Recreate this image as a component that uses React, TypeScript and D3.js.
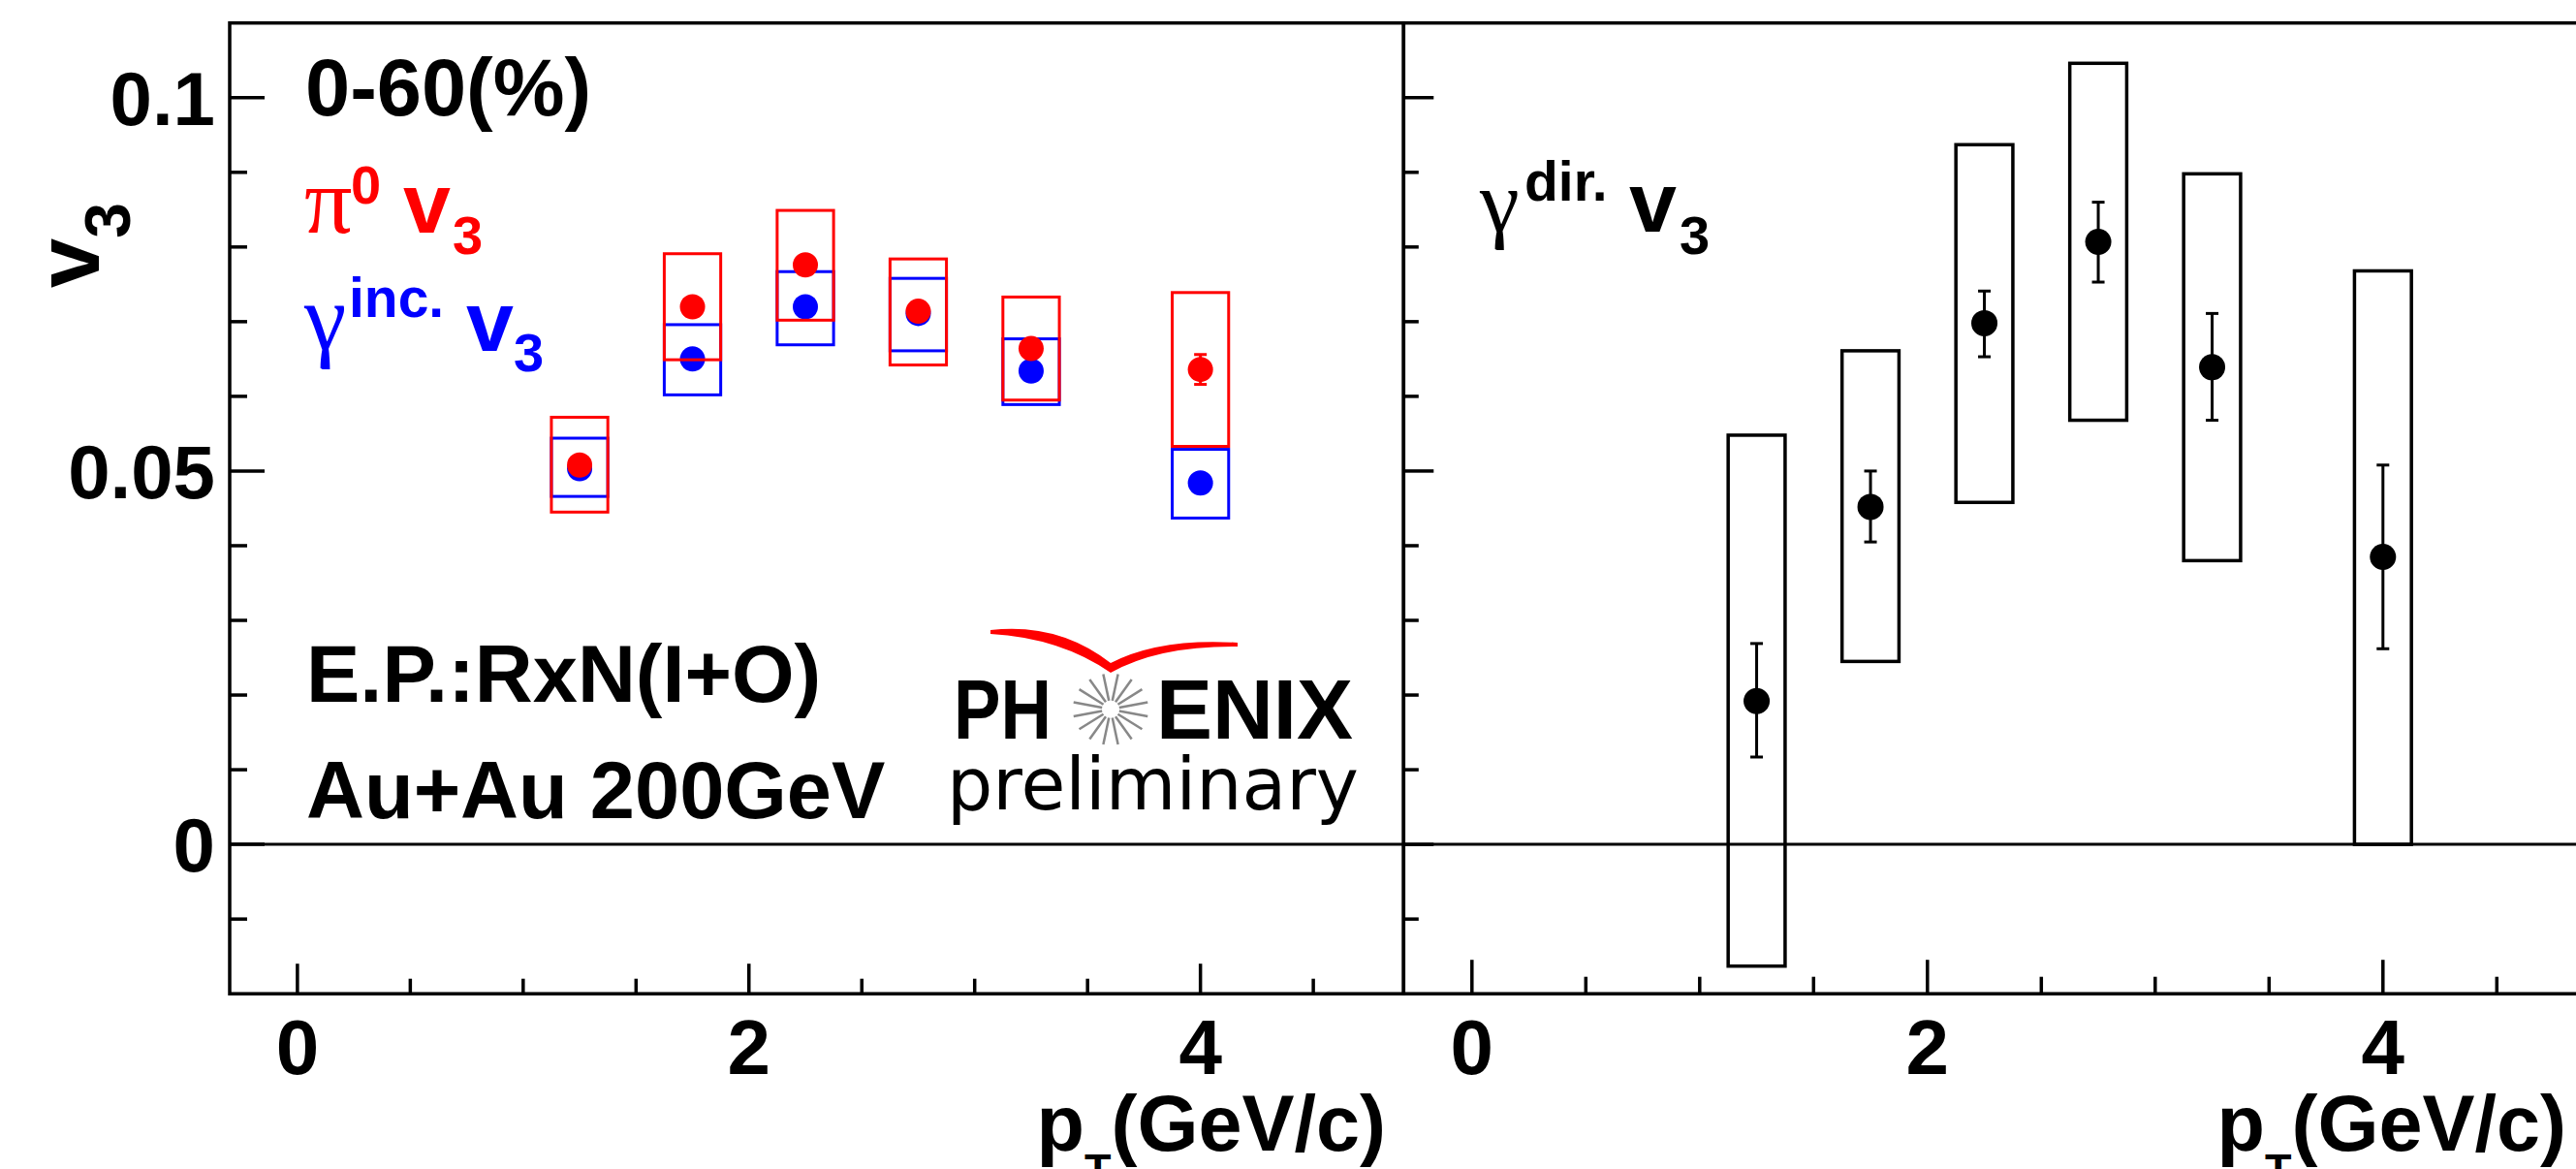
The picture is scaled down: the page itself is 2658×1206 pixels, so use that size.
import React from "react";
import * as d3 from "d3";

// pT bin centres (GeV/c)
const pT = [1.25, 1.75, 2.25, 2.75, 3.25, 4.0];

// pi0 v3 (red)
const pi0V3 = [0.0508, 0.072, 0.0776, 0.0714, 0.0664, 0.0636];
const pi0Stat = [0.0005, 0.0005, 0.0005, 0.0005, 0.0005, 0.002];
const pi0SysLo = [0.0445, 0.0649, 0.0702, 0.0642, 0.0595, 0.0533];
const pi0SysHi = [0.0572, 0.0791, 0.0849, 0.0784, 0.0733, 0.0739];

// inclusive photon v3 (blue)
const incV3 = [0.0503, 0.065, 0.072, 0.0711, 0.0634, 0.0484];
const incStat = [0.0005, 0.0005, 0.0005, 0.0005, 0.0005, 0.0005];
const incSysLo = [0.0466, 0.0602, 0.0669, 0.0661, 0.0589, 0.0437];
const incSysHi = [0.0544, 0.0696, 0.0767, 0.0758, 0.0677, 0.0529];

// direct photon v3 (black)
const dirV3 = [0.0192, 0.0452, 0.0698, 0.0807, 0.0639, 0.0385];
const dirStatLo = [0.0117, 0.0405, 0.0653, 0.0753, 0.0568, 0.0262];
const dirStatHi = [0.0269, 0.05, 0.0741, 0.086, 0.0711, 0.0508];
const dirSysLo = [-0.0163, 0.0245, 0.0458, 0.0568, 0.038, 0.0];
const dirSysHi = [0.0548, 0.0661, 0.0937, 0.1046, 0.0898, 0.0768];

const xMajor = [0, 2, 4];
const xLabels = ["0", "2", "4"];
const yMajor = [0, 0.05, 0.1];
const yLabels = ["0", "0.05", "0.1"];

const W = 2658;
const H = 1206;
const top = 23.7;
const bottom = 1025.2;
const leftX0 = 237;
const divX = 1448.3;
const rightX1 = 2670.3;
const boxHalf = 0.125;

const sans = "'Liberation Sans', Arial, Helvetica, sans-serif";
const serif = "'Liberation Serif', 'Times New Roman', serif";

const App = () => {
  const y = d3.scaleLinear().domain([-0.02, 0.11]).range([bottom, top]);
  const xL = d3.scaleLinear().domain([-0.3, 4.9]).range([leftX0, divX]);
  const xR = d3.scaleLinear().domain([-0.3, 4.9]).range([divX, rightX1]);

  const xMinor = d3.range(0, 4.75, 0.5).filter((v) => !xMajor.includes(v));
  const yMinor = d3
    .range(-1, 11)
    .map((i) => i / 100)
    .filter((v) => !yMajor.some((m) => Math.abs(m - v) < 1e-9));

  const sysBox = (x, p, lo, hi, color, sw, key) => (
    <rect
      key={key}
      x={x(p - boxHalf)}
      y={y(hi)}
      width={x(p + boxHalf) - x(p - boxHalf)}
      height={y(lo) - y(hi)}
      fill="none"
      stroke={color}
      strokeWidth={sw}
    />
  );

  const errBar = (x, p, lo, hi, color, key) => (
    <g key={key} stroke={color} strokeWidth={3}>
      <line x1={x(p)} x2={x(p)} y1={y(lo)} y2={y(hi)} />
      <line x1={x(p) - 6.5} x2={x(p) + 6.5} y1={y(lo)} y2={y(lo)} />
      <line x1={x(p) - 6.5} x2={x(p) + 6.5} y1={y(hi)} y2={y(hi)} />
    </g>
  );

  const axes = (x, x0, x1, yMajLen, yMinLen, xMajLen, xMinLen, labelsY) => (
    <g stroke="#000" strokeWidth={3.5}>
      {yMajor.map((v) => (
        <line key={"ym" + v} x1={x0} x2={x0 + yMajLen} y1={y(v)} y2={y(v)} />
      ))}
      {yMinor.map((v) => (
        <line key={"yn" + v} x1={x0} x2={x0 + yMinLen} y1={y(v)} y2={y(v)} />
      ))}
      {xMajor.map((v) => (
        <line key={"xm" + v} x1={x(v)} x2={x(v)} y1={bottom} y2={bottom - xMajLen} />
      ))}
      {xMinor.map((v) => (
        <line key={"xn" + v} x1={x(v)} x2={x(v)} y1={bottom} y2={bottom - xMinLen} />
      ))}
      {/* zero line */}
      <line x1={x0} x2={x1} y1={y(0)} y2={y(0)} strokeWidth={3} />
      {/* frame */}
      <rect x={x0} y={top} width={x1 - x0} height={bottom - top} fill="none" />
      <g stroke="none" fill="#000" fontFamily={sans} fontWeight="bold" fontSize={80} textAnchor="middle">
        {xMajor.map((v, i) => (
          <text key={"xl" + v} x={x(v)} y={1108}>
            {xLabels[i]}
          </text>
        ))}
      </g>
      {labelsY && (
        <g stroke="none" fill="#000" fontFamily={sans} fontWeight="bold" fontSize={78} textAnchor="end">
          {yMajor.map((v, i) => (
            <text key={"yl" + v} x={x0 - 15} y={y(v) + 28}>
              {yLabels[i]}
            </text>
          ))}
        </g>
      )}
    </g>
  );

  const rays = d3.range(16).map((i) => ((i + 0.5) * Math.PI) / 8);
  const cx = 1146;
  const cy = 731.7;

  return (
    <svg
      width={W}
      height={H}
      style={{ position: "absolute", left: 0, top: 0, background: "#fff" }}
    >
      <rect x={0} y={0} width={W} height={H} fill="#fff" />

      {/* left panel */}
      {axes(xL, leftX0, divX, 36, 18, 31, 15.5, true)}
      {pT.map((p, i) => sysBox(xL, p, incSysLo[i], incSysHi[i], "#0000ff", 3, "bb" + i))}
      {pT.map((p, i) => errBar(xL, p, incV3[i] - incStat[i], incV3[i] + incStat[i], "#0000ff", "be" + i))}
      {pT.map((p, i) => (
        <circle key={"bc" + i} cx={xL(p)} cy={y(incV3[i])} r={13} fill="#0000ff" />
      ))}
      {pT.map((p, i) => sysBox(xL, p, pi0SysLo[i], pi0SysHi[i], "#ff0000", 3, "rb" + i))}
      {pT.map((p, i) => errBar(xL, p, pi0V3[i] - pi0Stat[i], pi0V3[i] + pi0Stat[i], "#ff0000", "re" + i))}
      {pT.map((p, i) => (
        <circle key={"rc" + i} cx={xL(p)} cy={y(pi0V3[i])} r={13} fill="#ff0000" />
      ))}

      {/* right panel */}
      {axes(xR, divX, rightX1, 31, 15.5, 35, 17.5, false)}
      {pT.map((p, i) => sysBox(xR, p, dirSysLo[i], dirSysHi[i], "#000", 3.5, "kb" + i))}
      {pT.map((p, i) => errBar(xR, p, dirStatLo[i], dirStatHi[i], "#000", "ke" + i))}
      {pT.map((p, i) => (
        <circle key={"kc" + i} cx={xR(p)} cy={y(dirV3[i])} r={13.5} fill="#000" />
      ))}

      {/* texts */}
      <g fontFamily={sans} fontWeight="bold">
        <text x={315} y={118.6} fontSize={83}>0-60(%)</text>
        <text x={316} y={724} fontSize={83}>E.P.:RxN(I+O)</text>
        <text x={316} y={843.5} fontSize={83}>Au+Au 200GeV</text>

        <g fill="#ff0000">
          <text x={314} y={240} fontFamily={serif} fontWeight="normal" fontSize={98}>π</text>
          <text x={362} y={210} fontSize={56}>0</text>
          <text x={416} y={240} fontSize={88}>v</text>
          <text x={467} y={262} fontSize={56}>3</text>
        </g>
        <g fill="#0000ff">
          <text x={314} y={360} fontFamily={serif} fontWeight="normal" fontSize={98}>γ</text>
          <text x={360} y={326.7} fontSize={57}>inc.</text>
          <text x={481} y={361.7} fontSize={88}>v</text>
          <text x={530} y={383} fontSize={56}>3</text>
        </g>
        <g fill="#000">
          <text x={1527} y={239} fontFamily={serif} fontWeight="normal" fontSize={92}>γ</text>
          <text x={1573} y={207} fontSize={57}>dir.</text>
          <text x={1681} y={239} fontSize={88}>v</text>
          <text x={1733} y={262} fontSize={56}>3</text>
        </g>

        {/* y axis title */}
        <text transform="translate(102,297) rotate(-90)" fontSize={92}>
          v
          <tspan fontSize={66} dy={32}>3</tspan>
        </text>

        {/* x axis titles */}
        <text x={1430} y={1187} fontSize={81} textAnchor="end">
          p<tspan fontSize={45} dy={35}>T</tspan>
          <tspan dy={-35}>(GeV/c)</tspan>
        </text>
        <text x={2648} y={1187} fontSize={81} textAnchor="end">
          p<tspan fontSize={45} dy={35}>T</tspan>
          <tspan dy={-35}>(GeV/c)</tspan>
        </text>
      </g>

      {/* PHENIX preliminary logo */}
      <g>
        <path
          d="M1022,650 Q1092,642 1146,684 Q1196,658 1277,663 L1277,667 Q1196,666 1146,694 Q1094,658 1022,654 Z"
          fill="#ff0000"
        />
        <g fontFamily={sans} fontWeight="bold" fontSize={88}>
          <text x={984} y={762} textLength={101} lengthAdjust="spacingAndGlyphs">PH</text>
          <text x={1193} y={762} textLength={203} lengthAdjust="spacingAndGlyphs">ENIX</text>
        </g>
        <g stroke="#888" strokeWidth={2.5}>
          {rays.map((a, i) => (
            <line
              key={"ray" + i}
              x1={cx + 9 * Math.cos(a)}
              y1={cy + 9 * Math.sin(a)}
              x2={cx + 39 * Math.cos(a)}
              y2={cy + 37 * Math.sin(a)}
            />
          ))}
        </g>
        <text
          x={977}
          y={835}
          fontFamily="'DejaVu Sans', Verdana, sans-serif"
          fontSize={74}
          textLength={425}
          lengthAdjust="spacingAndGlyphs"
        >
          preliminary
        </text>
      </g>
    </svg>
  );
};

export default App;
